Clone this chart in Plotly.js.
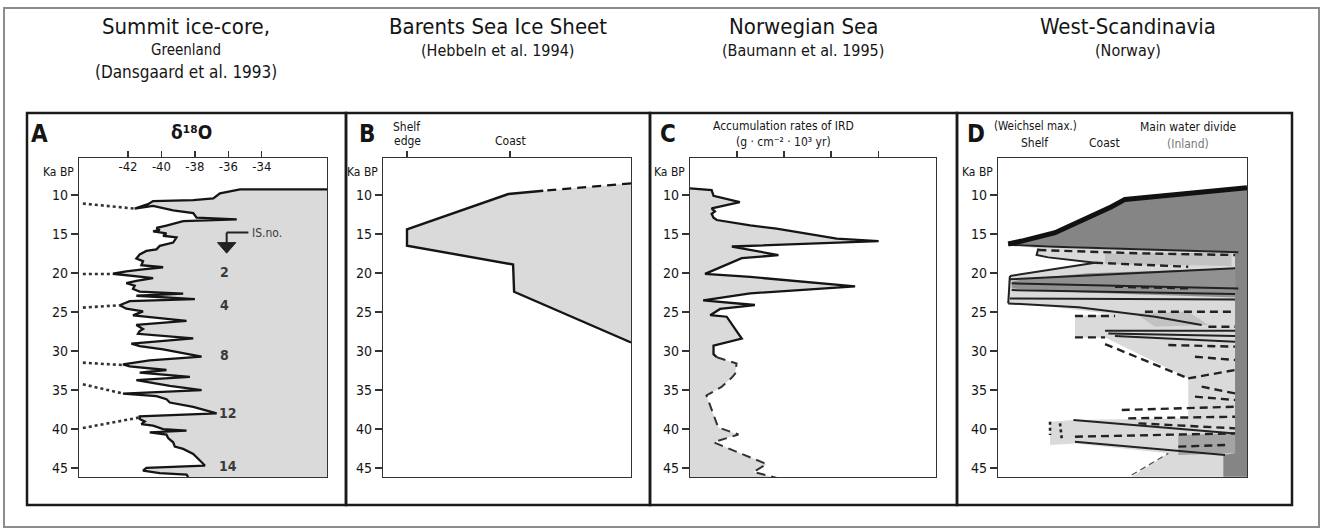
<!DOCTYPE html>
<html><head><meta charset="utf-8">
<script src="https://cdn.plot.ly/plotly-3.0.1.min.js"></script>
<style>html,body{margin:0;padding:0;background:#fff;}#chart{width:1324px;height:530px;}</style>
</head><body><div id="chart"></div>
<script>
// ================= DATA =================
const ageTicks = [10, 15, 20, 25, 30, 35, 40, 45];
const ageTickLabels = ['10', '15', '20', '25', '30', '35', '40', '45'];

// ---- Panel A: Summit ice core, delta18O (permil) vs age (ka BP)
const d18oTicks = [-42, -40, -38, -36, -34];
const d18oTickLabels = ['-42', '-40', '-38', '-36', '-34'];
const aD18O = [-30.1, -35.3, -36.5, -36.9, -38.1, -40.5, -40.8, -41.6, -40.5, -39.3, -38.1, -37.9, -35.5, -38.7, -39.7, -40.3, -40.1, -40.5, -39.7, -39.9, -39.1, -39.3, -40.1, -40.3, -40.9, -41.3, -41.5, -41.1, -41.2, -39.9, -41.1, -42.1, -42.9, -41.6, -40.5, -41.5, -42.1, -41.6, -41.7, -41.3, -38.7, -41.5, -38.0, -41.9, -42.5, -42.1, -41.1, -41.7, -38.5, -41.5, -41.1,
  -41.3, -41.4, -38.1, -41.8, -41.3, -39.9, -37.6, -40.7, -42.3, -41.9, -39.7, -41.3, -38.3, -41.5, -39.5, -37.6, -42.3, -40.3, -39.7, -39.5, -38.1, -36.7, -41.3, -41.3, -41.0, -41.2, -40.5, -39.9, -38.5, -40.7, -39.7, -39.6, -39.3, -39.2, -38.7, -38.1, -37.7, -37.4, -40.9, -41.1, -40.1, -38.5, -38.4];
const aAge = [9.26, 9.26, 9.78, 10.43, 10.65, 10.78, 11.17, 11.74, 11.39, 11.96, 12.30, 12.91, 13.13, 13.35, 13.91, 14.22, 14.48, 14.65, 14.91, 15.22, 15.43, 16.09, 16.52, 16.96, 17.17, 17.61, 18.13, 18.48, 19.0, 19.26, 19.52, 19.78, 20.09, 20.43, 20.65, 21.0, 21.3, 21.61, 22.04, 22.39, 22.65, 22.91, 23.35, 23.61, 24.13, 24.57, 24.91, 25.43, 26.13, 26.65, 27.17,
  27.45, 27.79, 28.38, 29.06, 29.36, 29.79, 30.72, 31.19, 31.70, 31.96, 32.43, 32.77, 33.32, 33.74, 34.47, 35.02, 35.45, 35.79, 36.17, 36.60, 37.15, 38.0, 38.38, 38.72, 39.02, 39.36, 39.57, 40.0, 40.21, 40.43, 40.72, 41.15, 41.70, 42.26, 42.55, 43.19, 44.04, 44.68, 44.98, 45.32, 45.66, 45.83, 46.17];
// dotted correlation lines (start -> end)
const aDotD18O = [[-44.7, -41.6], [-44.7, -42.9], [-44.7, -42.5], [-44.7, -42.3], [-44.7, -42.3], [-44.7, -41.3]];
const aDotAge = [[11.09, 11.74], [20.13, 20.13], [24.43, 24.13], [31.49, 31.80], [34.26, 35.45], [39.87, 38.51]];
// interstadial numbers
const isLabels = ['2', '4', '8', '12', '14'];
const isD18O = [-36.2, -36.2, -36.2, -36.0, -36.0];
const isAges = [19.9, 24.1, 30.5, 38.0, 44.8];

// ---- Panel B: Barents Sea Ice Sheet extent (0 = shelf edge, 1 = coast)
const bTickVals = [0, 1];
const bPos = [2.175, 1.323, 0.984, 0.0, 0.0, 1.03, 1.04, 2.175];
const bAge = [8.5, 9.45, 9.87, 14.4, 16.5, 18.9, 22.4, 28.9];

// ---- Panel C: Norwegian Sea IRD accumulation rates
const cTickVals = [1, 2, 3, 4];
const cIRD = [0, 0.46, 0.50, 0.64, 1.06, 0.46, 0.53, 0.46, 0.50, 0.57, 1.28, 1.84, 2.41, 3.12, 4.01, 3.12, 0.89, 1.88, 1.10, 0.32, 1.28, 3.51, 1.28, 0.28, 1.38, 0.64, 0.43, 0.78, 1.10, 0.50, 0.50, 0.57];
const cAge = [9.14, 9.36, 10.1, 10.3, 10.9, 11.7, 12.1, 12.4, 12.9, 13.2, 13.9, 14.3, 14.9, 15.6, 15.9, 16.1, 16.6, 17.7, 18.1, 20.1, 20.5, 21.7, 22.6, 23.5, 24.1, 24.6, 25.4, 25.6, 28.4, 29.3, 30.4, 30.8];
const cIRDDashed = [0.57, 0.99, 0.96, 0.89, 0.67, 0.35, 0.60, 1.03, 0.50, 1.63, 1.35, 1.99];
const cAgeDashed = [30.8, 31.6, 32.9, 33.4, 34.6, 35.7, 39.8, 40.7, 41.7, 44.5, 45.5, 46.5];

// ---- Panel D: West-Scandinavia ice extent (0 = shelf, 1 = main water divide)
const dLightPos = [1.0, 0.510, 0.456, 0.363, 0.229, 0.095, 0.041, 0.162, 0.155, 0.202, 0.390, 0.048, 0.041, 0.041, 0.229, 0.456, 0.309, 0.309, 0.430, 0.764, 0.764, 0.764, 0.303, 0.209, 0.209, 0.309, 0.684, 0.537, 1.0];
const dLightAge = [9.06, 10.56, 11.50, 12.86, 14.83, 15.90, 16.28, 16.84, 17.69, 17.99, 18.68, 20.38, 20.56, 23.89, 24.40, 25.26, 25.51, 28.25, 28.25, 33.50, 37.14, 38.63, 38.85, 39.06, 42.05, 41.84, 43.12, 46.11, 46.11];
const dMidPos = [[0.430, 0.938, 0.938, 0.430], [0.550, 0.764, 0.845, 0.631], [0.724, 0.952, 0.952, 0.724]];
const dMidAge = [[17.48, 17.39, 19.10, 18.85], [25.17, 24.96, 26.67, 26.88], [40.77, 40.56, 43.12, 43.33]];
const dDarkPos = [1.0, 0.510, 0.456, 0.363, 0.229, 0.095, 0.041, 0.229, 0.952, 0.952, 0.905, 0.905, 1.0];
const dDarkAge = [9.06, 10.56, 11.50, 12.86, 14.83, 15.90, 16.28, 16.54, 17.26, 43.12, 43.33, 46.11, 46.11];
const dDark2Pos = [0.952, 0.363, 0.095, 0.055, 0.055, 0.363, 0.952];
const dDark2Age = [19.40, 20.04, 20.81, 21.11, 21.97, 22.52, 23.12];
const dMaxPos = [1.0, 0.510, 0.456, 0.363, 0.229, 0.095, 0.041];
const dMaxAge = [9.06, 10.56, 11.50, 12.86, 14.83, 15.90, 16.28];
const dSolidPos = [[0.041, 0.229, 0.965], [0.162, 0.155, 0.202, 0.390], [0.048, 0.390], [0.048, 0.952], [0.048, 0.041], [0.055, 0.965], [0.055, 0.952], [0.048, 0.952], [0.041, 0.323, 0.631, 0.818], [0.430, 0.952], [0.443, 0.952], [0.470, 0.952], [0.303, 0.952], [0.309, 0.912]];
const dSolidAge = [[16.37, 16.62, 17.35], [16.84, 17.69, 17.99, 18.68], [20.38, 18.68], [20.81, 19.40], [20.38, 23.89], [21.32, 21.97], [22.18, 22.69], [23.25, 23.38], [23.89, 24.40, 25.60, 26.67], [27.39, 27.39], [27.74, 28.08], [28.08, 28.80], [38.85, 40.56], [41.62, 43.33]];
const dDashPos = [[0.390, 0.764], [0.162, 0.577, 0.952], [0.470, 0.764], [0.309, 0.470], [0.309, 0.430], [0.430, 0.764], [0.590, 0.952], [0.845, 0.952], [0.764, 0.952], [0.818, 0.952], [0.791, 0.952], [0.497, 0.952], [0.523, 0.952], [0.564, 0.952], [0.309, 0.952], [0.724, 0.912], [0.684, 0.952], [0.791, 0.952]];
const dDashAge = [[18.68, 19.19], [17.05, 17.48, 17.69], [21.75, 21.97], [25.51, 25.51], [28.25, 28.25], [29.10, 33.50], [24.96, 24.96], [26.88, 26.88], [33.50, 32.44], [34.57, 35.43], [35.85, 36.28], [37.56, 37.14], [38.63, 38.42], [39.27, 39.91], [40.98, 40.56], [42.26, 42.05], [29.23, 29.44], [30.73, 31.15]];
const dThinDashPos = [0.537, 0.684];
const dThinDashAge = [45.90, 43.12];
const dDotPos = [[0.209, 0.209], [0.249, 0.256]];
const dDotAge = [[39.06, 40.77], [39.27, 41.20]];

// ================= LAYOUT HELPERS =================
const W = 1324, H = 530;
const px = v => v / W;
const py = v => 1 - v / H;
const FONT = "'Liberation Sans Narrow', 'DejaVu Sans Condensed', 'Arial Narrow', 'Liberation Sans', Arial, sans-serif";
const INK = '#151515';
const LIGHT = '#dadada', MID = '#c2c2c2', DARK = '#858585';
const yRange = [46.15, 5.25];
const plots = [ // left, right in px
  {l: 79, r: 327, xr: [-44.93, -30.1]},
  {l: 383, r: 631, xr: [-0.233, 2.175]},
  {l: 690, r: 936, xr: [0, 5.23]},
  {l: 998, r: 1247, xr: [0, 1]}
];
const plotTop = 158, plotBot = 477;

function lines(xs, ys, xa, ya, style) {
  const X = [], Y = [];
  xs.forEach((arr, i) => { X.push(...arr, null); Y.push(...ys[i], null); });
  return Object.assign({x: X, y: Y, xaxis: xa, yaxis: ya, mode: 'lines', hoverinfo: 'skip', showlegend: false}, style);
}
function poly(x, y, xa, ya, color) {
  return {x: x, y: y, xaxis: xa, yaxis: ya, mode: 'lines', fill: 'toself', fillcolor: color, line: {width: 0, color: color}, hoverinfo: 'skip', showlegend: false};
}

const traces = [];
// ---- A
traces.push(poly(aD18O.concat([plots[0].xr[1]]), aAge.concat([aAge[aAge.length - 1]]), 'x', 'y', LIGHT));
traces.push({x: aD18O, y: aAge, xaxis: 'x', yaxis: 'y', mode: 'lines', line: {color: INK, width: 2.3}, hoverinfo: 'skip', showlegend: false});
traces.push(lines(aDotD18O, aDotAge, 'x', 'y', {line: {color: '#333', width: 2.6, dash: 'dot'}}));
// ---- B
traces.push(poly(bPos, bAge, 'x2', 'y2', LIGHT));
traces.push({x: bPos.slice(1), y: bAge.slice(1), xaxis: 'x2', yaxis: 'y2', mode: 'lines', line: {color: INK, width: 2.4}, hoverinfo: 'skip', showlegend: false});
traces.push({x: bPos.slice(0, 2), y: bAge.slice(0, 2), xaxis: 'x2', yaxis: 'y2', mode: 'lines', line: {color: INK, width: 2.4, dash: '9px,6px'}, hoverinfo: 'skip', showlegend: false});
// ---- C
traces.push({x: cIRD.concat(cIRDDashed.slice(1)), y: cAge.concat(cAgeDashed.slice(1)), xaxis: 'x3', yaxis: 'y3', mode: 'lines', fill: 'tozerox', fillcolor: LIGHT, line: {width: 0, color: LIGHT}, hoverinfo: 'skip', showlegend: false});
traces.push({x: cIRD, y: cAge, xaxis: 'x3', yaxis: 'y3', mode: 'lines', line: {color: INK, width: 2.3}, hoverinfo: 'skip', showlegend: false});
traces.push({x: cIRDDashed, y: cAgeDashed, xaxis: 'x3', yaxis: 'y3', mode: 'lines', line: {color: '#333', width: 2, dash: '9px,6px'}, hoverinfo: 'skip', showlegend: false});
// ---- D
traces.push(poly(dLightPos, dLightAge, 'x4', 'y4', LIGHT));
dMidPos.forEach((p, i) => traces.push(poly(p, dMidAge[i], 'x4', 'y4', i === 2 ? '#a4a4a4' : MID)));
traces.push(poly(dDarkPos, dDarkAge, 'x4', 'y4', DARK));
traces.push(poly(dDark2Pos, dDark2Age, 'x4', 'y4', '#919191'));
traces.push(lines(dSolidPos, dSolidAge, 'x4', 'y4', {line: {color: '#222', width: 2}}));
traces.push(lines(dDashPos, dDashAge, 'x4', 'y4', {line: {color: '#222', width: 2.4, dash: '8px,5px'}}));
traces.push({x: dThinDashPos, y: dThinDashAge, xaxis: 'x4', yaxis: 'y4', mode: 'lines', line: {color: '#555', width: 1.3, dash: '6px,4px'}, hoverinfo: 'skip', showlegend: false});
traces.push(lines(dDotPos, dDotAge, 'x4', 'y4', {line: {color: '#222', width: 2.6, dash: 'dot'}}));
traces.push({x: dMaxPos, y: dMaxAge, xaxis: 'x4', yaxis: 'y4', mode: 'lines', line: {color: '#111', width: 5}, hoverinfo: 'skip', showlegend: false});

// ================= AXES =================
const layout = {
  width: W, height: H, margin: {l: 0, r: 0, t: 0, b: 0},
  paper_bgcolor: '#fff', plot_bgcolor: 'rgba(0,0,0,0)',
  font: {family: FONT, color: INK}, showlegend: false,
  shapes: [], annotations: []
};
const yDom = [py(plotBot), py(plotTop)];
plots.forEach((p, i) => {
  const n = i === 0 ? '' : String(i + 1);
  const xa = {
    domain: [px(p.l), px(p.r)], range: p.xr, anchor: 'y' + n, side: 'top',
    showgrid: false, zeroline: false, showline: true, mirror: true, linecolor: '#333', linewidth: 1.2,
    ticks: i === 3 ? '' : 'outside', ticklen: 6, tickwidth: 1.3, tickcolor: '#333', fixedrange: true
  };
  if (i === 0) {
    Object.assign(xa, {tickmode: 'array', tickvals: d18oTicks, ticktext: d18oTickLabels, ticklabelposition: 'inside', ticklabelstandoff: 4, tickfont: {size: 13, family: FONT, color: INK}});
  } else if (i === 1) {
    Object.assign(xa, {tickmode: 'array', tickvals: bTickVals, showticklabels: false});
  } else if (i === 2) {
    Object.assign(xa, {tickmode: 'array', tickvals: cTickVals, showticklabels: false});
  } else {
    Object.assign(xa, {showticklabels: false});
  }
  layout['xaxis' + n] = xa;
  layout['yaxis' + n] = {
    domain: yDom, range: yRange, anchor: 'x' + n, showgrid: false, zeroline: false,
    showline: true, mirror: true, linecolor: '#333', linewidth: 1.2,
    tickmode: 'array', tickvals: ageTicks, ticktext: ageTickLabels, ticks: 'outside', ticklen: 7, tickwidth: 1.3, tickcolor: '#333',
    tickfont: {size: 14, family: FONT, color: INK}, fixedrange: true
  };
  layout.annotations.push({xref: 'paper', yref: 'paper', x: px(p.l - 3), y: py(172), xanchor: 'right', yanchor: 'middle', text: 'Ka BP', showarrow: false, font: {size: 12, family: FONT, color: INK}});
});

// ================= FRAMES =================
layout.shapes.push({type: 'rect', xref: 'paper', yref: 'paper', x0: px(4), x1: px(1319), y0: py(527), y1: py(8), line: {color: '#8c8c8c', width: 2}});
[[27, 346], [346, 650], [650, 957], [957, 1292]].forEach(b => {
  layout.shapes.push({type: 'rect', xref: 'paper', yref: 'paper', x0: px(b[0]), x1: px(b[1]), y0: py(505), y1: py(113), line: {color: '#1a1a1a', width: 2.5}});
});

// ================= TEXT =================
function txt(x, y, text, size, opts) {
  layout.annotations.push(Object.assign({xref: 'paper', yref: 'paper', x: px(x), y: py(y), xanchor: 'center', yanchor: 'middle', text: text, showarrow: false, font: {size: size, family: FONT, color: INK}}, opts || {}));
}
txt(186, 27, 'Summit ice-core,', 22);
txt(186, 50, 'Greenland', 15);
txt(186, 72, '(Dansgaard et al. 1993)', 17);
txt(498, 27, 'Barents Sea Ice Sheet', 22);
txt(498, 51, '(Hebbeln et al. 1994)', 16);
txt(803, 27, 'Norwegian Sea', 22);
txt(803, 51, '(Baumann et al. 1995)', 16);
txt(1128, 27, 'West-Scandinavia', 22);
txt(1128, 51, '(Norway)', 16);
// panel letters
[['A', 39], ['B', 367], ['C', 668], ['D', 976]].forEach(l => txt(l[1], 134, '<b>' + l[0] + '</b>', 24));
txt(191, 132, '<b>δ¹⁸O</b>', 19);
txt(407, 127, 'Shelf', 12);
txt(407, 141, 'edge', 12);
txt(510, 141, 'Coast', 12);
txt(783, 126, 'Accumulation rates of IRD', 12);
txt(783, 142, '(g · cm⁻² · 10³ yr)', 12);
txt(1035, 126, '(Weichsel max.)', 11.5);
txt(1035, 143, 'Shelf', 12);
txt(1104, 143, 'Coast', 12);
txt(1188, 127, 'Main water divide', 12);
txt(1188, 144, '(Inland)', 12, {font: {size: 12, family: FONT, color: '#777'}});

// Panel A interstadial labels and arrow
isLabels.forEach((s, i) => layout.annotations.push({xref: 'x', yref: 'y', x: isD18O[i], y: isAges[i], text: '<b>' + s + '</b>', showarrow: false, xanchor: 'center', yanchor: 'middle', font: {size: 14, family: FONT, color: '#3a3a3a'}}));
layout.annotations.push({xref: 'x', yref: 'y', x: -34.7, y: 14.85, text: 'IS.no.', showarrow: false, xanchor: 'left', yanchor: 'middle', font: {size: 12, family: FONT, color: '#3a3a3a'}});
layout.shapes.push({type: 'line', xref: 'x', yref: 'y', x0: -36.1, x1: -34.8, y0: 14.8, y1: 14.8, line: {color: '#222', width: 2}});
layout.shapes.push({type: 'line', xref: 'x', yref: 'y', x0: -36.1, x1: -36.1, y0: 14.8, y1: 16.3, line: {color: '#222', width: 2}});
layout.shapes.push({type: 'path', xref: 'x', yref: 'y', path: 'M -36.65,16.1 L -35.55,16.1 L -36.1,17.45 Z', fillcolor: '#222', line: {color: '#222', width: 1}});

Plotly.newPlot('chart', traces, layout, {staticPlot: true, displayModeBar: false});
</script>
</body></html>
